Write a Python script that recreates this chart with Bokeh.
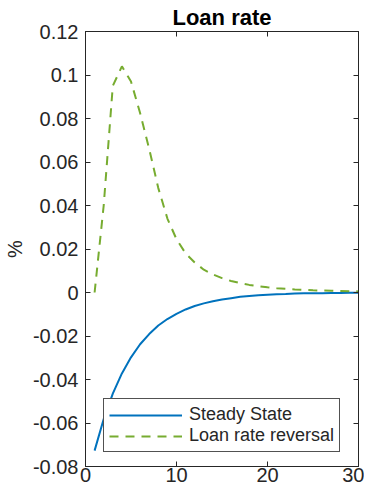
from bokeh.plotting import figure
from bokeh.models import (LinearAxis, FixedTicker, CustomJSTickFormatter, Range1d,
                          Legend, LegendItem)
from bokeh.embed import file_html
from bokeh.resources import INLINE

# ---- data ----
periods = list(range(1, 31))
steady_state = [-0.0727, -0.0582, -0.0465, -0.0372, -0.0298, -0.0238, -0.0191, -0.0152,
                -0.0122, -0.0098, -0.0078, -0.0062, -0.0050, -0.0040, -0.0032, -0.0026,
                -0.0020, -0.0016, -0.0013, -0.0010, -0.0008, -0.0007, -0.0005, -0.0004,
                -0.0003, -0.0003, -0.0002, -0.0002, -0.0001, -0.0001]
loan_rate_reversal = [0.0, 0.040, 0.095, 0.104, 0.097, 0.0825, 0.066, 0.048, 0.034, 0.0245,
                      0.018, 0.0138, 0.0105, 0.0083, 0.0066, 0.0053, 0.0043, 0.0035, 0.0029,
                      0.0024, 0.0020, 0.0017, 0.0014, 0.0012, 0.0010, 0.0009, 0.0008, 0.0007,
                      0.0006, 0.0005]
x_ticks = [0, 10, 20, 30]
y_ticks = [-0.08, -0.06, -0.04, -0.02, 0, 0.02, 0.04, 0.06, 0.08, 0.1, 0.12]
title_text = "Loan rate"
y_label = "%"
series_names = ["Steady State", "Loan rate reversal"]

FONT = "Liberation Sans"
DARK = "#262626"
BLUE = "#0072BD"
GREEN = "#77AC30"

p = figure(width=364, height=484, output_backend="svg", toolbar_location=None,
           x_range=Range1d(0, 30), y_range=Range1d(-0.08, 0.12),
           min_border_left=80, min_border_right=6, min_border_top=25, min_border_bottom=18,
           x_axis_location=None, y_axis_location=None)
p.grid.visible = False
p.outline_line_color = DARK
p.outline_line_width = 1
p.background_fill_color = "white"
p.border_fill_color = "white"

p.title.text = title_text
p.title.text_font = FONT
p.title.text_font_size = "22px"
p.title.text_font_style = "bold"
p.title.text_color = "#000000"
p.title.align = "center"
p.title.standoff = 4

fmt = CustomJSTickFormatter(code="""
var s = tick.toFixed(2);
if (s.indexOf('.') >= 0) { s = s.replace(/0+$/, '').replace(/\\.$/, ''); }
if (s === '-0') { s = '0'; }
return s;
""")


def style_axis(ax, ticks, labels=True):
    ax.ticker = FixedTicker(ticks=ticks)
    ax.axis_line_color = DARK
    ax.major_tick_line_color = DARK
    ax.major_tick_in = 5
    ax.major_tick_out = 0
    ax.minor_tick_line_color = None
    ax.major_label_text_font = FONT
    ax.major_label_text_color = DARK
    if labels:
        ax.major_label_text_font_size = "20px"
    else:
        ax.major_label_text_font_size = "0px"
        ax.major_label_text_alpha = 0
        ax.major_label_standoff = 0


xb = LinearAxis()
style_axis(xb, x_ticks)
xb.major_label_standoff = 1
p.add_layout(xb, "below")

yl = LinearAxis(formatter=fmt, axis_label=y_label)
style_axis(yl, y_ticks)
yl.major_label_standoff = 7
yl.axis_label_text_font = FONT
yl.axis_label_text_font_size = "20px"
yl.axis_label_text_font_style = "normal"
yl.axis_label_text_color = DARK
yl.axis_label_standoff = 4
p.add_layout(yl, "left")

xt = LinearAxis()
style_axis(xt, x_ticks, labels=False)
p.add_layout(xt, "above")

yr = LinearAxis()
style_axis(yr, y_ticks, labels=False)
p.add_layout(yr, "right")

r1 = p.line(periods, steady_state, line_color=BLUE, line_width=2)
r2 = p.line(periods, loan_rate_reversal, line_color=GREEN, line_width=2, line_dash="9 7")

legend = Legend(items=[LegendItem(label=series_names[0], renderers=[r1]),
                       LegendItem(label=series_names[1], renderers=[r2])],
                location=(18, 14))
legend.label_text_font = FONT
legend.label_text_font_size = "18px"
legend.label_text_color = DARK
legend.glyph_width = 73
legend.glyph_height = 20
legend.label_height = 20
legend.label_standoff = 7
legend.spacing = 0
legend.padding = 5
legend.margin = 0
legend.border_line_color = DARK
legend.border_line_width = 1
legend.border_line_alpha = 0.8
legend.background_fill_color = "white"
legend.background_fill_alpha = 1
p.add_layout(legend, "center")

open("out.html", "w").write(file_html(p, INLINE))
